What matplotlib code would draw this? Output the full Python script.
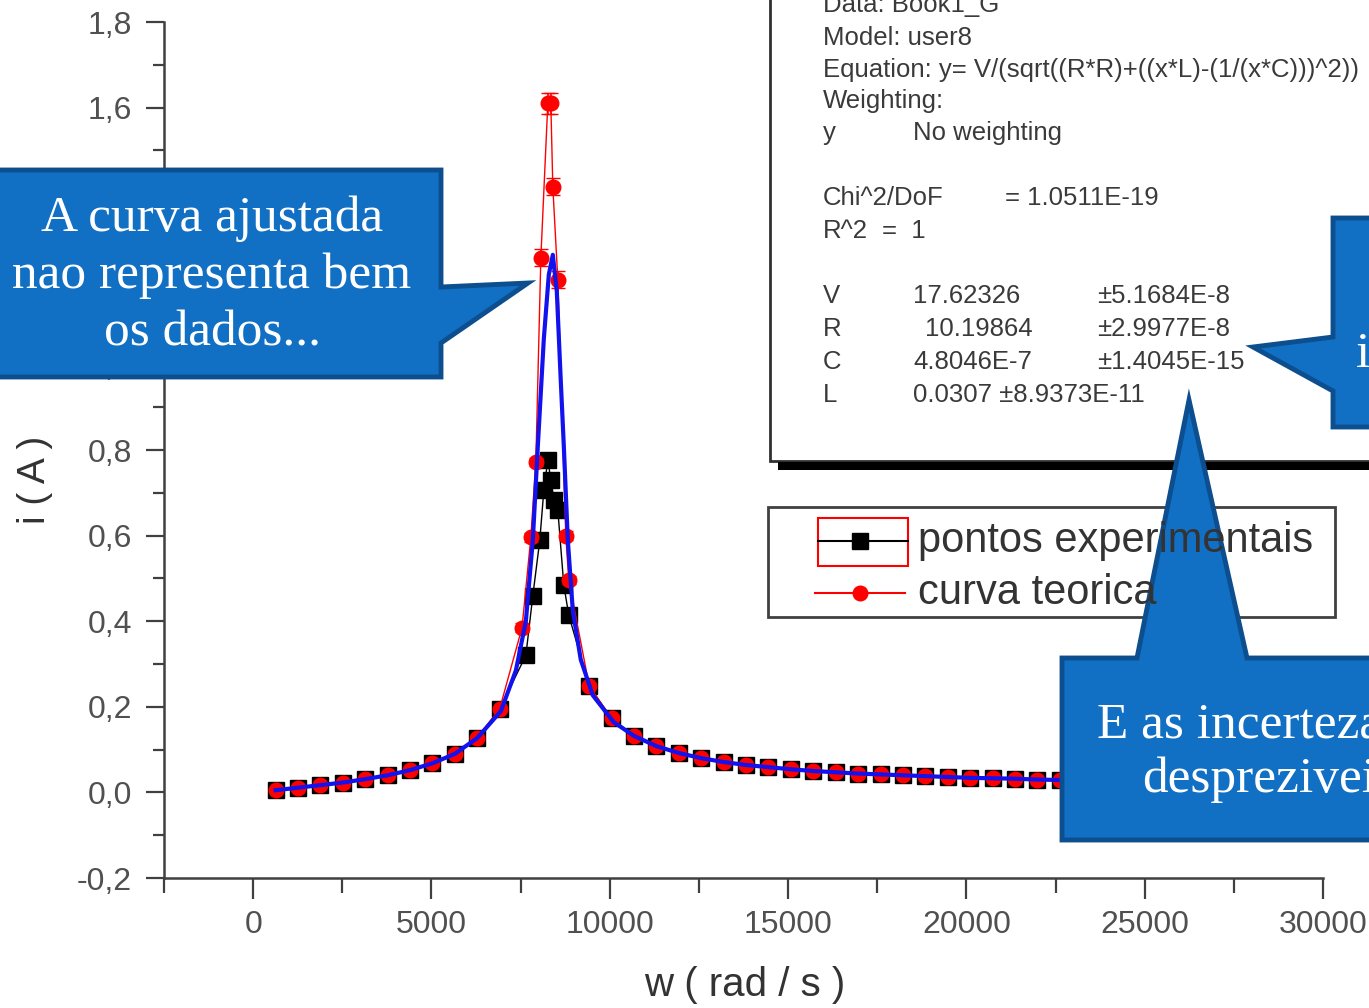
import matplotlib
matplotlib.use('Agg')
import matplotlib.pyplot as plt
from matplotlib.patches import Polygon, Rectangle
from matplotlib.ticker import MultipleLocator

plt.rcParams['font.family'] = ['Liberation Sans', 'DejaVu Sans']

# values, w in rad/s, i in A
w_low = [628, 1257, 1885, 2513, 3142, 3770, 4398, 5027, 5655, 6283, 6912]
i_low = [0.005, 0.011, 0.017, 0.023, 0.031, 0.040, 0.052, 0.068, 0.090, 0.127, 0.195]
w_high = [9425, 10053, 10681, 11310, 11938, 12566, 13195, 13823, 14451, 15080, 15708,
          16336, 16965, 17593, 18221, 18850, 19478, 20106, 20735, 21363, 21991, 22619]
i_high = [0.248, 0.173, 0.132, 0.108, 0.092, 0.080, 0.071, 0.064, 0.059, 0.054, 0.050,
          0.047, 0.044, 0.042, 0.040, 0.038, 0.036, 0.034, 0.033, 0.032, 0.030, 0.029]

# pontos experimentais around the resonance
w_exp_peak = [7647, 7843, 8039, 8151, 8263, 8347, 8431, 8543, 8711, 8851]
i_exp_peak = [0.32, 0.46, 0.59, 0.706, 0.777, 0.73, 0.683, 0.66, 0.484, 0.414]

# curva teorica around the resonance (with error bars)
w_teo_peak = [7540, 7787, 7927, 8067, 8263, 8347, 8403, 8543, 8767, 8851]
i_teo_peak = [0.385, 0.596, 0.772, 1.249, 1.61, 1.61, 1.415, 1.198, 0.60, 0.496]
err_teo_peak = [0.01, 0.01, 0.01, 0.02, 0.025, 0.025, 0.02, 0.02, 0.01, 0.01]

# fitted curve (blue) around the resonance
w_fit_peak = [6947, 7367, 7647, 7843, 7983, 8151, 8291, 8403, 8515, 8627, 8711,
              8823, 8963, 9187, 9523, 10112]
i_fit_peak = [0.19, 0.285, 0.40, 0.59, 0.81, 1.06, 1.21, 1.256, 1.17, 0.96, 0.81,
              0.59, 0.425, 0.31, 0.227, 0.164]

w_exp = w_low + w_exp_peak + w_high
i_exp = i_low + i_exp_peak + i_high
w_teo = w_low + w_teo_peak + w_high
i_teo = i_low + i_teo_peak + i_high
err_teo = [0.0] * len(w_low) + err_teo_peak + [0.0] * len(w_high)
w_fit = w_low[:-1] + w_fit_peak + w_high[2:]
i_fit = i_low[:-1] + i_fit_peak + i_high[2:]

x_ticks = [0, 5000, 10000, 15000, 20000, 25000, 30000]
y_ticks = [-0.2, 0.0, 0.2, 0.4, 0.6, 0.8, 1.0, 1.2, 1.4, 1.6, 1.8]
y_tick_labels = ['-0,2', '0,0', '0,2', '0,4', '0,6', '0,8', '1,0', '1,2', '1,4', '1,6', '1,8']

fit_lines = [('Data: Book1_G', 5), ('Model: user8', 38),
             ('Equation: y= V/(sqrt((R*R)+((x*L)-(1/(x*C)))^2))', 70),
             ('Weighting:', 101), ('y', 133), ('Chi^2/DoF', 198), ('R^2', 231),
             ('V', 296), ('R', 329), ('C', 362), ('L', 395)]
fit_extra = [('No weighting', 913, 133), ('= 1.0511E-19', 1005, 198), ('=  1', 882, 231),
             ('17.62326', 913, 296), ('10.19864', 925, 329), ('4.8046E-7', 913, 362),
             ('0.0307 \u00b18.9373E-11', 913, 395),
             ('\u00b15.1684E-8', 1097, 296), ('\u00b12.9977E-8', 1097, 329),
             ('\u00b11.4045E-15', 1097, 362)]

W, H = 1369, 1008
fig = plt.figure(figsize=(W / 100, H / 100), dpi=100)
fig.patch.set_facecolor('white')

ax = fig.add_axes([164 / W, 1 - 878 / H, (1323 - 164) / W, (878 - 22) / H])
ax.plot(w_exp, i_exp, color='black', lw=1, marker='s', ms=11, zorder=3)
ax.errorbar(w_teo, i_teo, yerr=err_teo, color='red', lw=1, marker='o', ms=10.5,
            capsize=5, elinewidth=1.2, zorder=4)
ax.plot(w_fit, i_fit, color='#1212ee', lw=3, zorder=5)

ax.set_xlim(-2500, 30000)
ax.set_ylim(-0.2, 1.8)
ax.set_xticks(x_ticks)
ax.set_yticks(y_ticks)
ax.set_yticklabels(y_tick_labels)
ax.xaxis.set_minor_locator(MultipleLocator(2500))
ax.yaxis.set_minor_locator(MultipleLocator(0.1))
for s in ['top', 'right']:
    ax.spines[s].set_visible(False)
for s in ['left', 'bottom']:
    ax.spines[s].set_linewidth(1.8)
    ax.spines[s].set_color('#404040')
ax.tick_params(which='both', direction='out', width=1.6, color='#404040',
               labelsize=23, labelcolor='#505050')
ax.tick_params(axis='y', which='major', length=13, pad=10)
ax.tick_params(axis='y', which='minor', length=8)
ax.tick_params(axis='x', which='major', length=15, pad=8)
ax.tick_params(axis='x', which='minor', length=11)

fig.text(745 / W, 1 - 985 / H, 'w ( rad / s )', ha='center', va='center',
         fontsize=29, color='#333333')
fig.text(35 / W, 1 - 480 / H, 'i ( A )', ha='center', va='center', rotation=90,
         fontsize=28, color='#333333')

# overlay in pixel coordinates for the annotation boxes
ov = fig.add_axes([0, 0, 1, 1], zorder=10)
ov.set_xlim(0, W)
ov.set_ylim(H, 0)
ov.axis('off')
ov.patch.set_alpha(0)

# Origin fit-results box
ov.add_patch(Rectangle((770, -10), 620, 471, fc='white', ec='#303030', lw=2))
ov.add_patch(Rectangle((778, 462), 620, 8, fc='black', ec='none'))
for txt, y in fit_lines:
    ov.text(823, y, txt, fontsize=18.5, color='#3a3a3a', va='center', ha='left')
for txt, x, y in fit_extra:
    ov.text(x, y, txt, fontsize=18.5, color='#3a3a3a', va='center', ha='left')

# legend
ov.add_patch(Rectangle((768, 507), 567, 110, fc='white', ec='#404040', lw=2))
ov.add_patch(Rectangle((818, 518), 90, 48, fill=False, ec='red', lw=1.5))
ov.plot([818, 908], [541, 541], color='black', lw=1.5)
ov.plot([860], [541], marker='s', ms=11, color='black')
ov.plot([815, 905], [593, 593], color='red', lw=1.5)
ov.plot([860], [593], marker='o', ms=10.5, color='red')
ov.text(918, 541, 'pontos experimentais', fontsize=30, color='#333333', va='center')
ov.text(918, 593, 'curva teorica', fontsize=30, color='#333333', va='center')

# callouts
blue_fill = '#1170C4'
blue_edge = '#0C4E8E'
serif = ['Liberation Serif', 'DejaVu Serif']
c1 = [(-10, 170), (441, 170), (441, 287), (528, 283), (441, 343), (441, 377), (-10, 377)]
c2 = [(1333, 218), (1390, 218), (1390, 427), (1333, 427), (1333, 391), (1253, 347), (1333, 337)]
c3 = [(1062, 658), (1137, 658), (1189, 400), (1247, 658), (1390, 658), (1390, 840), (1062, 840)]
for pts in [c1, c2, c3]:
    ov.add_patch(Polygon(pts, closed=True, fc=blue_fill, ec=blue_edge, lw=3.5))

ov.text(212, 196, 'A curva ajustada\nnao representa bem\nos dados...', family=serif,
        fontsize=37, color='white', ha='center', va='top', linespacing=1.29,
        multialignment='center')
ov.text(1097, 737, 'E as incertezas', family=serif, fontsize=37, color='white',
        ha='left', va='baseline', clip_on=True)
ov.text(1142, 792, 'despreziveis', family=serif, fontsize=37, color='white',
        ha='left', va='baseline', clip_on=True)
ov.text(1356, 367, 'i', family=serif, fontsize=37, color='white', ha='left',
        va='baseline', clip_on=True)

fig.savefig('out.png', dpi=100)
